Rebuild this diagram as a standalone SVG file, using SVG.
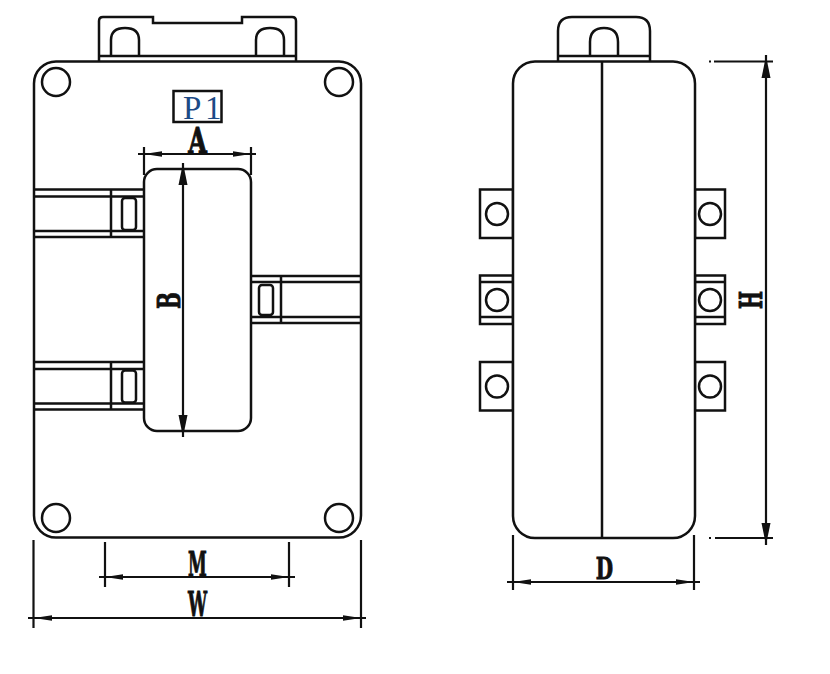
<svg xmlns="http://www.w3.org/2000/svg" width="830" height="674" viewBox="0 0 830 674">
<style>
.s{fill:none;stroke:#111;stroke-width:2.5}
.w{fill:#fff;stroke:#111;stroke-width:2.5}
.d{fill:none;stroke:#111;stroke-width:2.2}
.h{fill:none;stroke:#111;stroke-width:1;marker-end:url(#ah)}
.v{fill:none;stroke:#111;stroke-width:1;marker-end:url(#av)}
.l{font-family:"DejaVu Serif",serif;font-weight:700;font-size:20px;fill:#111;stroke:#111;stroke-width:.6;text-anchor:middle}
</style>
<defs>
<marker id="ah" markerUnits="userSpaceOnUse" markerWidth="19" markerHeight="8" refX="18" refY="4" orient="auto"><path d="M0 1.2Q-1 4 0 6.8L18 4Z" fill="#111"/></marker>
<marker id="av" markerUnits="userSpaceOnUse" markerWidth="23" markerHeight="10" refX="22" refY="5" orient="auto"><path d="M0 .5V9.500L22 5Z" fill="#111"/></marker>
<g id="strap-l"><path class="s" d="M34 0H144M34 7H144M34 41.500H144M34 47.500H144M111 0V47.500"/><rect class="s" x="122" y="8.500" width="14" height="32" rx="3"/></g>
<g id="term-l"><rect class="s" x="480" y="0" width="33" height="48.500"/><circle class="s" cx="497" cy="24.500" r="11"/></g>
<g id="term-r"><rect class="s" x="695" y="0" width="30" height="48.500"/><circle class="s" cx="710" cy="24.500" r="11"/></g>
</defs>
<rect width="830" height="674" fill="#fff"/>
<g id="front-tab"><path class="w" d="M99 61V21Q99 17 103 17H153V23H242V17H292Q296 17 296 21V61"/><path class="s" d="M99 56H296M111 56V40Q111 28 125 28Q139 28 139 40V56M256 56V40Q256 28 270 28Q284 28 284 40V56"/></g>
<g id="front-body"><rect class="w" x="34" y="61.500" width="327" height="476" rx="22"/><circle class="s" cx="56" cy="82" r="14"/><circle class="s" cx="339" cy="82" r="14"/><circle class="s" cx="56" cy="518" r="14"/><circle class="s" cx="339" cy="518" r="14"/></g>
<g id="strap-top"><use href="#strap-l" y="189.500"/></g>
<g id="strap-bottom"><use href="#strap-l" y="362"/></g>
<g id="strap-right"><path class="s" d="M251 276H361M251 282H361M251 317H361M251 323H361M281 276V323"/><rect class="s" x="259" y="285" width="14" height="30" rx="3"/></g>
<g id="window"><rect class="w" x="144" y="169" width="107" height="262" rx="13"/></g>
<g id="p1"><rect class="s" x="173.500" y="91" width="48" height="31"/><text x="183" y="119" font-family="'Liberation Serif',serif" font-size="33" fill="#1c4a86" xml:space="preserve">P</text><text x="205" y="119" font-family="'Liberation Serif',serif" font-size="33" fill="#1c4a86">1</text></g>
<g id="side-tab"><path class="w" d="M558 61V31Q558 17 572 17H636Q650 17 650 31V61"/><path class="s" d="M558 56H650M590 56V42Q590 28 604 28Q618 28 618 42V56"/></g>
<g id="side-terminals">
<use href="#term-l" y="189.500"/><use href="#term-l" y="275.500"/><use href="#term-l" y="362"/>
<use href="#term-r" y="189.500"/><use href="#term-r" y="275.500"/><use href="#term-r" y="362"/>
<path class="s" d="M480 282H513M480 317H513M695 282H725M695 317H725"/>
</g>
<g id="side-body"><rect class="w" x="513" y="61.500" width="182" height="476.500" rx="22"/><path class="s" d="M602 61.500V538"/></g>
<g id="connectors">
<path class="d" d="M144 147V175M251 147V175M138 154H256"/><path class="h" d="M162 154H144"/><path class="h" d="M233 154H251"/>
<path class="d" d="M183 163V437"/><path class="v" d="M183 185V163"/><path class="v" d="M183 415V437"/>
<path class="d" d="M105 542V587M289 542V587M99 577H295"/><path class="h" d="M123 577H105"/><path class="h" d="M271 577H289"/>
<path class="d" d="M33.500 540V628M361 540V628M28 618H366"/><path class="h" d="M52 618H34"/><path class="h" d="M342 618H361"/>
<path class="d" d="M513 535V590M694 535V590M507 582H700"/><path class="h" d="M531 582H513"/><path class="h" d="M676 582H694"/>
<path class="d" d="M709 61.500H711M714 61.500H773M709 538H711M715 538H773M766 55V545"/><path class="v" d="M766 78V56"/><path class="v" d="M766 523V545"/>
</g>
<g id="labels">
<text class="l" transform="translate(197.500 153) scale(1.2 1.8)">A</text>
<text class="l" transform="translate(180 300.500) rotate(-90) scale(1 1.55)">B</text>
<text class="l" transform="translate(197.500 576) scale(.85 1.65)">M</text>
<text class="l" transform="translate(197.500 616) scale(.85 1.65)">W</text>
<text class="l" transform="translate(604.500 579) scale(1 1.5)">D</text>
<text class="l" transform="translate(762 300) rotate(-90) scale(.95 1.55)">H</text>
</g>
</svg>
